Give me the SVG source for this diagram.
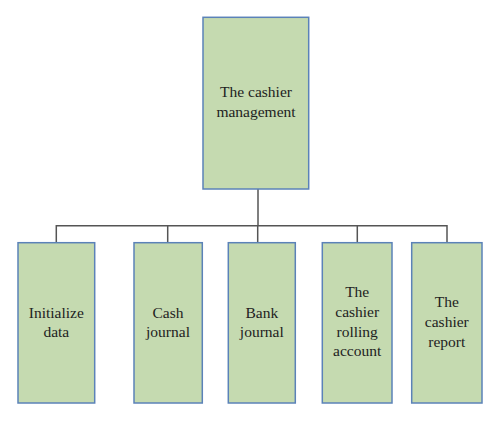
<svg xmlns="http://www.w3.org/2000/svg" width="500" height="422" viewBox="0 0 500 422">
<style>
.box{fill:#c5dab0;stroke:#5b82b8;stroke-width:1.5}
.ln{fill:none;stroke:#555;stroke-width:1.5}
text{font-family:"Liberation Serif","DejaVu Serif",serif;font-size:15.5px;fill:#222;text-anchor:middle}
</style>
<rect width="500" height="422" fill="#fff"/>
<g id="connectors">
<path class="ln" d="M258 189V225.7M56.3 242.7V225.7H447V242.7M167.7 225.7V242.7M257.7 225.7V242.7M357.3 225.7V242.7"/>
</g>
<g id="root">
<rect class="box" x="203" y="17.3" width="105.7" height="171.7"/>
<text x="256" y="97">The cashier</text>
<text x="256" y="117">management</text>
</g>
<g id="init">
<rect class="box" x="18" y="242.7" width="76.7" height="160.3"/>
<text x="56.3" y="317.7">Initialize</text>
<text x="56.3" y="337">data</text>
</g>
<g id="cash">
<rect class="box" x="134" y="242.7" width="68.3" height="160.3"/>
<text x="168" y="317.7">Cash</text>
<text x="168" y="337">journal</text>
</g>
<g id="bank">
<rect class="box" x="228.3" y="242.7" width="67" height="160.3"/>
<text x="261.8" y="317.7">Bank</text>
<text x="261.8" y="337">journal</text>
</g>
<g id="rolling">
<rect class="box" x="322.3" y="242.7" width="69.7" height="160.3"/>
<text x="357.2" y="297.3">The</text>
<text x="357.2" y="316.7">cashier</text>
<text x="357.2" y="336.5">rolling</text>
<text x="357.2" y="356">account</text>
</g>
<g id="report">
<rect class="box" x="411.7" y="242.7" width="70.3" height="160.3"/>
<text x="446.8" y="307.3">The</text>
<text x="446.8" y="326.7">cashier</text>
<text x="446.8" y="346.5">report</text>
</g>
</svg>
